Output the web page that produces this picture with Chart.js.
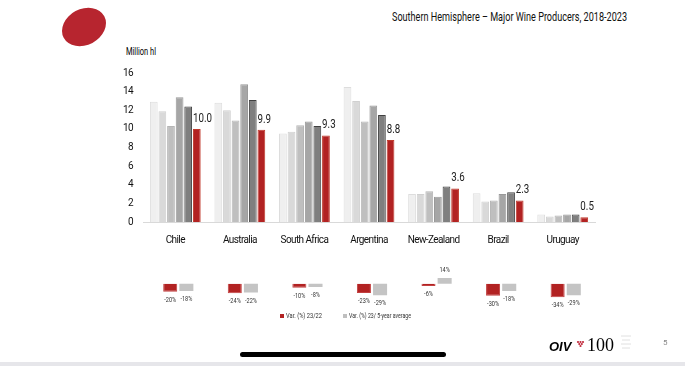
<!DOCTYPE html>
<html>
<head>
<meta charset="utf-8">
<script src="https://cdn.jsdelivr.net/npm/chart.js@4"></script>
<style>
  body { margin: 0; background: #fff; }
  #page { position: relative; width: 685px; height: 366px; overflow: hidden; font-family: Roboto, sans-serif; -webkit-font-smoothing: antialiased; }
  canvas { position: absolute; left: 0; }
  .fit { position: absolute; white-space: nowrap; transform-origin: 0 0; }
  #title { left: 392px; top: 9px; font-size: 13px; color: #111; }
  #unit { left: 126px; top: 46px; font-size: 10px; color: #000; }
  .leg { top: 311px; font-size: 7.5px; color: #333; }
  .sq { position: absolute; top: 314px; width: 4px; height: 4px; }
  #home { position: absolute; left: 240px; top: 352px; width: 206px; height: 5px; border-radius: 3px; background: #000; }
  #strip { position: absolute; left: 0; top: 362px; width: 685px; height: 4px; background: #e6e6ea; }
  #oiv { position: absolute; left: 549px; top: 339px; font: italic bold 13px "Liberation Sans", sans-serif; color: #000; }
  #hundred { position: absolute; left: 587px; top: 335px; font: 18px "Liberation Serif", serif; color: #000; }
  #pg { position: absolute; left: 663px; top: 338px; font-size: 8px; color: #888; }
</style>
</head>
<body>
<div id="page">
  <svg width="685" height="366" style="position:absolute;left:0;top:0">
    <ellipse cx="84" cy="27" rx="23" ry="18" transform="rotate(-28 84 27)" fill="#b7252f"/>
    <g fill="#c0283a" transform="translate(580,342)">
      <circle cx="-2" cy="0" r="1.1"/><circle cx="0.5" cy="0" r="1.1"/><circle cx="3" cy="0" r="1.1"/>
      <circle cx="-0.7" cy="2" r="1.1"/><circle cx="1.8" cy="2" r="1.1"/><circle cx="0.5" cy="4" r="1.1"/>
    </g>
    <g stroke="#d8d8d8" stroke-width="0.8" fill="none">
      <path d="M621 336 h10 M622 340 h8 M621 344 h10 M622 348 h8"/>
    </g>
  </svg>
  <div id="title" class="fit" data-w="235">Southern Hemisphere – Major Wine Producers, 2018-2023</div>
  <div id="unit" class="fit" data-w="30">Million hl</div>
  <canvas id="Chart" width="685" height="250" style="top:0"></canvas>
  <canvas id="VarChart" width="685" height="70" style="top:255px"></canvas>
  <div class="sq" style="left:280px;background:#b22222"></div>
  <div class="leg fit" style="left:286px" data-w="36">Var. (%) 23/22</div>
  <div class="sq" style="left:342.5px;background:#bfbfbf"></div>
  <div class="leg fit" style="left:349px" data-w="62">Var. (%) 23/ 5-year average</div>
  <div id="home"></div>
  <div id="strip"></div>
  <div id="oiv">OIV</div>
  <div id="hundred">100</div>
  <div id="pg">5</div>
</div>
<script>
const FONT = 'Roboto, sans-serif';

// categories and series
const countries = ['Chile', 'Australia', 'South Africa', 'Argentina', 'New-Zealand', 'Brazil', 'Uruguay'];
const years = ['2018', '2019', '2020', '2021', '2022', '2023'];
const v2018 = [12.9, 12.8, 9.5, 14.5, 3.0, 3.1, 0.8];
const v2019 = [11.9, 12.0, 9.7, 13.0, 3.0, 2.2, 0.6];
const v2020 = [10.3, 10.9, 10.4, 10.8, 3.3, 2.3, 0.7];
const v2021 = [13.4, 14.8, 10.8, 12.5, 2.7, 3.0, 0.8];
const v2022 = [12.4, 13.1, 10.3, 11.5, 3.8, 3.2, 0.8];
const v2023 = [10.0, 9.9, 9.3, 8.8, 3.6, 2.3, 0.5];
const yTicks = [0, 2, 4, 6, 8, 10, 12, 14, 16];

// variations (%)
const var2322 = [-20, -24, -10, -23, -6, -30, -34];
const var23avg = [-18, -22, -8, -29, 14, -18, -29];

const fills = ['#efefef', '#d9d9d9', '#bfbfbf', '#a6a6a6', '#7f7f7f', '#b22222'];
const borders = ['#dddddd', '#d0d0d0', '#b5b5b5', '#999999', '#404040', '#c0392b'];
const series = [v2018, v2019, v2020, v2021, v2022, v2023];

// squeeze the html texts to the narrow width of the original font
document.querySelectorAll('.fit').forEach(el => {
  const w = el.getBoundingClientRect().width;
  el.style.transform = 'scaleX(' + (el.dataset.w / w) + ')';
});

// draw narrow text: scale horizontally around x
function narrowText(ctx, text, x, y, sx) {
  ctx.save();
  ctx.translate(x, y);
  ctx.scale(sx, 1);
  ctx.fillText(text, 0, 0);
  ctx.restore();
}

const tightText = {
  id: 'tightText',
  beforeDraw(chart) { chart.ctx.letterSpacing = '-0.6px'; }
};

// value labels on the 2023 bars
const lastLabels = {
  id: 'lastLabels',
  afterDatasetsDraw(chart) {
    const ctx = chart.ctx;
    const meta = chart.getDatasetMeta(5);
    ctx.save();
    ctx.letterSpacing = '0px';
    ctx.font = '13px ' + FONT;
    ctx.fillStyle = '#222';
    ctx.textAlign = 'left';
    ctx.textBaseline = 'bottom';
    meta.data.forEach((bar, i) => {
      narrowText(ctx, v2023[i].toFixed(1), bar.x - bar.width / 2, bar.y - 4, 0.75);
    });
    ctx.restore();
  }
};

new Chart(document.getElementById('Chart'), {
  type: 'bar',
  data: {
    labels: countries,
    datasets: series.map((d, i) => ({
      label: years[i],
      data: d,
      backgroundColor: fills[i],
      borderColor: borders[i],
      borderWidth: 1
    }))
  },
  options: {
    responsive: false,
    animation: false,
    layout: { padding: { left: 103, right: 90, top: 73, bottom: 0 } },
    plugins: { legend: { display: false }, tooltip: { enabled: false } },
    scales: {
      x: {
        grid: { display: false, drawTicks: false },
        border: { color: '#d9d9d9' },
        ticks: { color: '#111', font: { family: FONT, size: 10 }, padding: 12, maxRotation: 0, minRotation: 0, autoSkip: false },
        afterFit: s => { s.height = 28; }
      },
      y: {
        min: 0, max: 16,
        afterBuildTicks: s => { s.ticks = yTicks.map(v => ({ value: v })); },
        grid: { display: false, drawTicks: false },
        border: { display: false },
        ticks: { color: '#111', font: { family: FONT, size: 10 }, padding: 10 },
        afterFit: s => { s.width = 40; }
      }
    }
  },
  plugins: [tightText, lastLabels]
});

// percentage labels under / above the variation bars
const varLabels = {
  id: 'varLabels',
  afterDatasetsDraw(chart) {
    const ctx = chart.ctx;
    ctx.save();
    ctx.font = '8px ' + FONT;
    ctx.fillStyle = '#333';
    ctx.textAlign = 'center';
    ctx.textBaseline = 'middle';
    chart.data.datasets.forEach((ds, di) => {
      chart.getDatasetMeta(di).data.forEach((bar, i) => {
        const v = ds.data[i];
        const y = v < 0 ? bar.y + 8 : bar.y - 8;
        narrowText(ctx, v + '%', bar.x, y, 0.7);
      });
    });
    ctx.restore();
  }
};

new Chart(document.getElementById('VarChart'), {
  type: 'bar',
  data: {
    labels: countries,
    datasets: [
      { label: 'Var. (%) 23/22', data: var2322, backgroundColor: '#b22222', borderColor: '#c24040', borderWidth: 1 },
      { label: 'Var. (%) 23/ 5-year average', data: var23avg, backgroundColor: '#c4c4c4' }
    ]
  },
  options: {
    responsive: false,
    animation: false,
    layout: { padding: { left: 146, right: 87, top: 20.7, bottom: 25.3 } },
    plugins: { legend: { display: false }, tooltip: { enabled: false } },
    datasets: { bar: { categoryPercentage: 0.5, barPercentage: 0.87 } },
    scales: {
      x: { display: false },
      y: { display: false, min: -40, max: 20 }
    }
  },
  plugins: [varLabels]
});
</script>
</body>
</html>
